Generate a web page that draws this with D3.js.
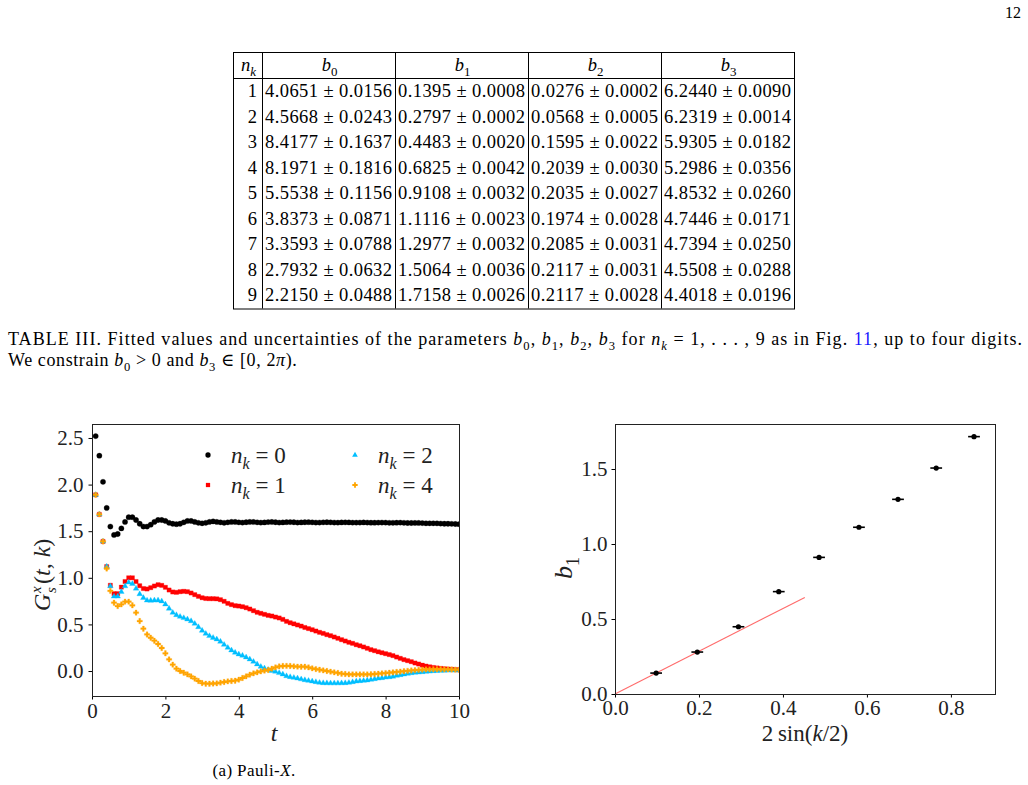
<!DOCTYPE html>
<html>
<head>
<meta charset="utf-8">
<script src="https://cdn.jsdelivr.net/npm/d3@7"></script>
<style>
  body { margin: 0; background: #fff; }
  svg { display: block; font-family: "Liberation Serif", "DejaVu Serif", serif; }
</style>
</head>
<body>
<div id="page"></div>
<script>
// ---- table III data
const nk = [1, 2, 3, 4, 5, 6, 7, 8, 9];
const b0 = [4.0651, 4.5668, 8.4177, 8.1971, 5.5538, 3.8373, 3.3593, 2.7932, 2.2150];
const b0err = [0.0156, 0.0243, 0.1637, 0.1816, 0.1156, 0.0871, 0.0788, 0.0632, 0.0488];
const b1 = [0.1395, 0.2797, 0.4483, 0.6825, 0.9108, 1.1116, 1.2977, 1.5064, 1.7158];
const b1err = [0.0008, 0.0002, 0.0020, 0.0042, 0.0032, 0.0023, 0.0032, 0.0036, 0.0026];
const b2 = [0.0276, 0.0568, 0.1595, 0.2039, 0.2035, 0.1974, 0.2085, 0.2117, 0.2117];
const b2err = [0.0002, 0.0005, 0.0022, 0.0030, 0.0027, 0.0028, 0.0031, 0.0031, 0.0028];
const b3 = [6.2440, 6.2319, 5.9305, 5.2986, 4.8532, 4.7446, 4.7394, 4.5508, 4.4018];
const b3err = [0.0090, 0.0014, 0.0182, 0.0356, 0.0260, 0.0171, 0.0250, 0.0288, 0.0196];

// ---- left panel: G_s^x(t,k), t = 0.1 ... 10
const tVals = d3.range(1, 101).map(i => i / 10);
const g0 = [2.52, 2.31, 2.03, 1.75, 1.55, 1.46, 1.47, 1.53, 1.60, 1.65,
  1.65, 1.62, 1.58, 1.55, 1.55, 1.57, 1.60, 1.62, 1.62, 1.61,
  1.59, 1.58, 1.575, 1.58, 1.595, 1.61, 1.61, 1.60, 1.59, 1.585,
  1.59, 1.60, 1.605, 1.60, 1.595, 1.59, 1.595, 1.60, 1.60, 1.595,
  1.592, 1.596, 1.600, 1.599, 1.595, 1.592, 1.594, 1.598, 1.599, 1.596,
  1.593, 1.594, 1.597, 1.598, 1.596, 1.593, 1.594, 1.596, 1.597, 1.595,
  1.593, 1.593, 1.595, 1.596, 1.595, 1.593, 1.592, 1.594, 1.595, 1.594,
  1.592, 1.592, 1.593, 1.594, 1.593, 1.591, 1.591, 1.592, 1.593, 1.592,
  1.590, 1.590, 1.591, 1.592, 1.590, 1.588, 1.588, 1.589, 1.589, 1.587,
  1.585, 1.585, 1.585, 1.584, 1.582, 1.580, 1.580, 1.579, 1.577, 1.575];
const g1 = [1.89, 1.68, 1.39, 1.12, 0.92, 0.83, 0.83, 0.90, 0.96, 1.00,
  1.00, 0.96, 0.915, 0.885, 0.88, 0.894, 0.912, 0.926, 0.919, 0.898,
  0.869, 0.848, 0.844, 0.851, 0.855, 0.851, 0.837, 0.819, 0.801, 0.786,
  0.778, 0.776, 0.776, 0.774, 0.765, 0.748, 0.726, 0.712, 0.701, 0.697,
  0.690, 0.679, 0.665, 0.647, 0.630, 0.619, 0.608, 0.597, 0.590, 0.579,
  0.569, 0.554, 0.533, 0.518, 0.506, 0.494, 0.482, 0.467, 0.455, 0.443,
  0.429, 0.415, 0.404, 0.390, 0.379, 0.365, 0.351, 0.336, 0.322, 0.308,
  0.297, 0.282, 0.271, 0.258, 0.244, 0.229, 0.218, 0.206, 0.196, 0.186,
  0.176, 0.165, 0.150, 0.136, 0.122, 0.111, 0.100, 0.086, 0.075, 0.063,
  0.053, 0.045, 0.038, 0.033, 0.028, 0.024, 0.021, 0.018, 0.015, 0.012];
const g2 = [1.89, 1.68, 1.39, 1.12, 0.91, 0.80, 0.80, 0.85, 0.91, 0.95,
  0.935, 0.885, 0.825, 0.785, 0.757, 0.755, 0.758, 0.758, 0.748, 0.715,
  0.669, 0.626, 0.601, 0.583, 0.569, 0.554, 0.536, 0.508, 0.472, 0.433,
  0.400, 0.376, 0.357, 0.340, 0.315, 0.282, 0.250, 0.222, 0.197, 0.179,
  0.165, 0.147, 0.125, 0.100, 0.072, 0.046, 0.029, 0.014, 0.003, -0.007,
  -0.021, -0.036, -0.054, -0.064, -0.072, -0.079, -0.088, -0.097, -0.104, -0.111,
  -0.118, -0.125, -0.129, -0.130, -0.131, -0.131, -0.131, -0.130, -0.129, -0.125,
  -0.118, -0.111, -0.107, -0.104, -0.100, -0.093, -0.086, -0.079, -0.075, -0.069,
  -0.065, -0.059, -0.050, -0.043, -0.036, -0.029, -0.022, -0.018, -0.014, -0.011,
  -0.007, -0.004, 0.000, 0.001, 0.004, 0.005, 0.007, 0.008, 0.009, 0.010];
const g4 = [1.89, 1.68, 1.39, 1.10, 0.86, 0.733, 0.697, 0.715, 0.744, 0.744,
  0.705, 0.626, 0.536, 0.454, 0.392, 0.357, 0.325, 0.290, 0.247, 0.190,
  0.125, 0.068, 0.025, 0.000, -0.018, -0.036, -0.057, -0.082, -0.107, -0.129,
  -0.136, -0.136, -0.134, -0.132, -0.125, -0.118, -0.111, -0.107, -0.104, -0.093,
  -0.075, -0.057, -0.039, -0.025, -0.014, -0.004, 0.004, 0.011, 0.025, 0.039,
  0.050, 0.054, 0.055, 0.054, 0.050, 0.047, 0.046, 0.046, 0.039, 0.029,
  0.021, 0.014, 0.007, 0.000, -0.007, -0.014, -0.021, -0.029, -0.032, -0.036,
  -0.036, -0.036, -0.036, -0.036, -0.036, -0.035, -0.032, -0.029, -0.025, -0.022,
  -0.018, -0.014, -0.010, -0.006, -0.002, 0.002, 0.006, 0.009, 0.012, 0.015,
  0.017, 0.018, 0.019, 0.019, 0.019, 0.018, 0.017, 0.016, 0.015, 0.014];
const leftXTicks = [0, 2, 4, 6, 8, 10];
const leftYTicks = [0.0, 0.5, 1.0, 1.5, 2.0, 2.5];

// ---- right panel: b1 vs 2 sin(k/2)
const sinK = [0.098, 0.196, 0.294, 0.390, 0.486, 0.581, 0.674, 0.765, 0.855];
const fitX = [0, 0.452];
const fitY = [0, 0.644];
const rightXTicks = [0.0, 0.2, 0.4, 0.6, 0.8];
const rightYTicks = [0.0, 0.5, 1.0, 1.5];

const W = 1028, H = 785;
const svg = d3.select("#page").append("svg").attr("width", W).attr("height", H);

// rich text helper: parts = [[text, style]], style: '' | 'i' | 's' | 'si' | 'p' | 'blue'
function rich(sel, parts, fs) {
  let cur = 0;
  for (const [txt, st] of parts) {
    let target = 0, size = fs;
    if (st.startsWith("s")) { target = fs * 0.28; size = fs * 0.7; }
    if (st.startsWith("p")) { target = -fs * 0.38; size = fs * 0.7; }
    const ts = sel.append("tspan").text(txt).attr("font-size", size);
    if (target !== cur) ts.attr("dy", target - cur);
    cur = target;
    if (st.endsWith("i")) ts.attr("font-style", "italic");
    if (st === "blue") ts.attr("fill", "#1a1aff");
  }
}

// page number
svg.append("text").attr("x", 1021).attr("y", 18).attr("text-anchor", "end")
  .attr("font-size", 16).text("12");

// ---- table
const colX = [233, 262, 395, 528, 661, 794];
const tTop = 52, hdrBot = 78, rowH = 25.5, tBot = hdrBot + rowH * 9 + 1;
const tbl = svg.append("g").attr("stroke", "#000").attr("stroke-width", 1);
tbl.append("rect").attr("x", colX[0] + 0.5).attr("y", tTop + 0.5)
  .attr("width", colX[5] - colX[0]).attr("height", tBot - tTop).attr("fill", "none");
colX.slice(1, 5).forEach(x => tbl.append("line").attr("x1", x + 0.5).attr("x2", x + 0.5)
  .attr("y1", tTop).attr("y2", tBot));
tbl.append("line").attr("x1", colX[0]).attr("x2", colX[5])
  .attr("y1", hdrBot + 0.5).attr("y2", hdrBot + 0.5);

const TF = 18.5;
const hdr = [[["n", "i"], ["k", "si"]], [["b", "i"], ["0", "s"]], [["b", "i"], ["1", "s"]],
  [["b", "i"], ["2", "s"]], [["b", "i"], ["3", "s"]]];
hdr.forEach((h, j) => {
  const t = svg.append("text").attr("x", (colX[j] + colX[j + 1]) / 2 + 1).attr("y", tTop + 19)
    .attr("text-anchor", "middle").attr("font-size", TF);
  rich(t, h, TF);
});
const cols = [[b0, b0err], [b1, b1err], [b2, b2err], [b3, b3err]];
nk.forEach((n, i) => {
  const y = hdrBot + rowH * i + 19;
  svg.append("text").attr("x", colX[1] - 5).attr("y", y).attr("text-anchor", "end")
    .attr("font-size", TF).text(n);
  cols.forEach(([v, e], j) => {
    svg.append("text").attr("x", colX[j + 1] + 3).attr("y", y).attr("font-size", TF)
      .attr("textLength", 127).attr("lengthAdjust", "spacing")
      .text(v[i].toFixed(4) + " \u00b1 " + e[i].toFixed(4));
  });
});

// ---- caption
const CF = 18;
const cap1 = svg.append("text").attr("x", 8).attr("y", 345).attr("font-size", CF)
  .attr("textLength", 1014).attr("lengthAdjust", "spacing");
rich(cap1, [["TABLE III. Fitted values and uncertainties of the parameters ", ""],
  ["b", "i"], ["0", "s"], [", ", ""], ["b", "i"], ["1", "s"], [", ", ""], ["b", "i"], ["2", "s"],
  [", ", ""], ["b", "i"], ["3", "s"], [" for ", ""], ["n", "i"], ["k", "si"],
  [" = 1, . . . , 9 as in Fig. ", ""], ["11", "blue"], [", up to four digits.", ""]], CF);
const cap2 = svg.append("text").attr("x", 8).attr("y", 366).attr("font-size", CF)
  .attr("letter-spacing", 0.6);
rich(cap2, [["We constrain ", ""], ["b", "i"], ["0", "s"], [" > 0 and ", ""], ["b", "i"], ["3", "s"],
  [" \u2208 [0, 2", ""], ["\u03c0", "i"], [").", ""]], CF);

// ---- left panel
const L = { left: 92, right: 459, top: 424, bottom: 696 };
const xL = d3.scaleLinear().domain([0, 10]).range([L.left, L.right]);
const yL = d3.scaleLinear().domain([-0.268, 2.65]).range([L.bottom, L.top]);
const gl = svg.append("g");

gl.append("g").attr("transform", `translate(0,${L.bottom})`)
  .call(d3.axisBottom(xL).tickValues(leftXTicks).tickSize(3.5).tickPadding(4).tickFormat(d3.format("d")))
  .call(g => g.select(".domain").remove())
  .call(g => g.selectAll("text").attr("font-size", 21).attr("font-family", "Liberation Serif").attr("fill", "#222"));
gl.append("g").attr("transform", `translate(${L.left},0)`)
  .call(d3.axisLeft(yL).tickValues(leftYTicks).tickSize(3.5).tickPadding(5).tickFormat(d3.format(".1f")))
  .call(g => g.select(".domain").remove())
  .call(g => g.selectAll("text").attr("font-size", 21).attr("font-family", "Liberation Serif").attr("fill", "#222"));

svg.append("clipPath").attr("id", "clipL").append("rect")
  .attr("x", L.left).attr("y", L.top).attr("width", L.right - L.left).attr("height", L.bottom - L.top);

const series = [
  { vals: g0, color: "#000000", shape: d3.symbolCircle, size: 22, label: "0" },
  { vals: g1, color: "#ff0000", shape: d3.symbolSquare, size: 18, label: "1" },
  { vals: g2, color: "#00bfff", shape: d3.symbolTriangle, size: 14, label: "2" },
  { vals: g4, color: "#ffa500", shape: d3.symbolCross, size: 16, label: "4" }
];
const pts = gl.append("g").attr("clip-path", "url(#clipL)");
series.forEach(s => {
  const sym = d3.symbol().type(s.shape).size(s.size);
  pts.append("g").selectAll("path").data(s.vals).join("path")
    .attr("d", sym)
    .attr("transform", (d, i) => `translate(${xL(tVals[i])},${yL(d)})`)
    .attr("fill", s.color)
    .attr("stroke", s.color).attr("stroke-opacity", 0.35).attr("stroke-width", 0.8);
});
gl.append("rect").attr("x", L.left + 0.5).attr("y", L.top + 0.5)
  .attr("width", L.right - L.left).attr("height", L.bottom - L.top)
  .attr("fill", "none").attr("stroke", "#222").attr("stroke-width", 1);

// legend
const legPos = [[208, 455], [208, 485], [355, 455], [355, 485]];
series.forEach((s, i) => {
  const [lx, ly] = legPos[i];
  gl.append("path").attr("d", d3.symbol().type(s.shape).size(s.size)())
    .attr("transform", `translate(${lx},${ly})`).attr("fill", s.color);
  const t = gl.append("text").attr("x", lx + 23).attr("y", ly + 8).attr("font-size", 23).attr("fill", "#222");
  rich(t, [["n", "i"], ["k", "si"], [" = " + s.label, ""]], 23);
});

// axis labels
gl.append("text").attr("x", 274).attr("y", 741).attr("text-anchor", "middle")
  .attr("font-size", 24).attr("font-style", "italic").attr("fill", "#222").text("t");
const yl = gl.append("g").attr("transform", "translate(50,574) rotate(-90)").attr("fill", "#222");
yl.append("text").attr("x", -37).attr("y", 0).attr("font-size", 24).attr("font-style", "italic").text("G");
yl.append("text").attr("x", -19).attr("y", -9).attr("font-size", 15).attr("font-style", "italic").text("x");
yl.append("text").attr("x", -19).attr("y", 6).attr("font-size", 15).attr("font-style", "italic").text("s");
const yl2 = yl.append("text").attr("x", -10).attr("y", 0).attr("font-size", 24);
rich(yl2, [["(", ""], ["t", "i"], [", ", ""], ["k", "i"], [")", ""]], 24);

// caption (a)
const capA = svg.append("text").attr("x", 254).attr("y", 776).attr("text-anchor", "middle")
  .attr("font-size", 17).attr("letter-spacing", 0.4);
rich(capA, [["(a) Pauli-", ""], ["X", "i"], [".", ""]], 17);

// ---- right panel
const R = { left: 615, right: 995, top: 424, bottom: 694 };
const xR = d3.scaleLinear().domain([0, 0.905]).range([R.left, R.right]);
const yR = d3.scaleLinear().domain([0, 1.8]).range([R.bottom, R.top]);
const gr = svg.append("g");
gr.append("g").attr("transform", `translate(0,${R.bottom})`)
  .call(d3.axisBottom(xR).tickValues(rightXTicks).tickSize(3.5).tickPadding(3).tickFormat(d3.format(".1f")))
  .call(g => g.select(".domain").remove())
  .call(g => g.selectAll("text").attr("font-size", 21).attr("font-family", "Liberation Serif").attr("fill", "#222"));
gr.append("g").attr("transform", `translate(${R.left},0)`)
  .call(d3.axisLeft(yR).tickValues(rightYTicks).tickSize(3.5).tickPadding(4).tickFormat(d3.format(".1f")))
  .call(g => g.select(".domain").remove())
  .call(g => g.selectAll("text").attr("font-size", 21).attr("font-family", "Liberation Serif").attr("fill", "#222"));

gr.append("line").attr("x1", xR(fitX[0])).attr("y1", yR(fitY[0]))
  .attr("x2", xR(fitX[1])).attr("y2", yR(fitY[1]))
  .attr("stroke", "#ff6b6b").attr("stroke-width", 1.1);

const xErr = 0.014;
gr.append("g").selectAll("line").data(b1).join("line")
  .attr("x1", (d, i) => xR(sinK[i] - xErr)).attr("x2", (d, i) => xR(sinK[i] + xErr))
  .attr("y1", d => yR(d)).attr("y2", d => yR(d))
  .attr("stroke", "#000").attr("stroke-width", 1.6);
gr.append("g").selectAll("circle").data(b1).join("circle")
  .attr("cx", (d, i) => xR(sinK[i])).attr("cy", d => yR(d)).attr("r", 2.6).attr("fill", "#000");

gr.append("rect").attr("x", R.left + 0.5).attr("y", R.top + 0.5)
  .attr("width", R.right - R.left).attr("height", R.bottom - R.top)
  .attr("fill", "none").attr("stroke", "#222").attr("stroke-width", 1);

const xlR = gr.append("text").attr("x", 805).attr("y", 741).attr("text-anchor", "middle")
  .attr("font-size", 23).attr("fill", "#222");
rich(xlR, [["2\u2009sin(", ""], ["k", "i"], ["/2)", ""]], 23);
const ylR = gr.append("text").attr("transform", "translate(572,568) rotate(-90)")
  .attr("text-anchor", "middle").attr("font-size", 26).attr("fill", "#222");
rich(ylR, [["b", "i"], ["1", "s"]], 26);
</script>
</body>
</html>
